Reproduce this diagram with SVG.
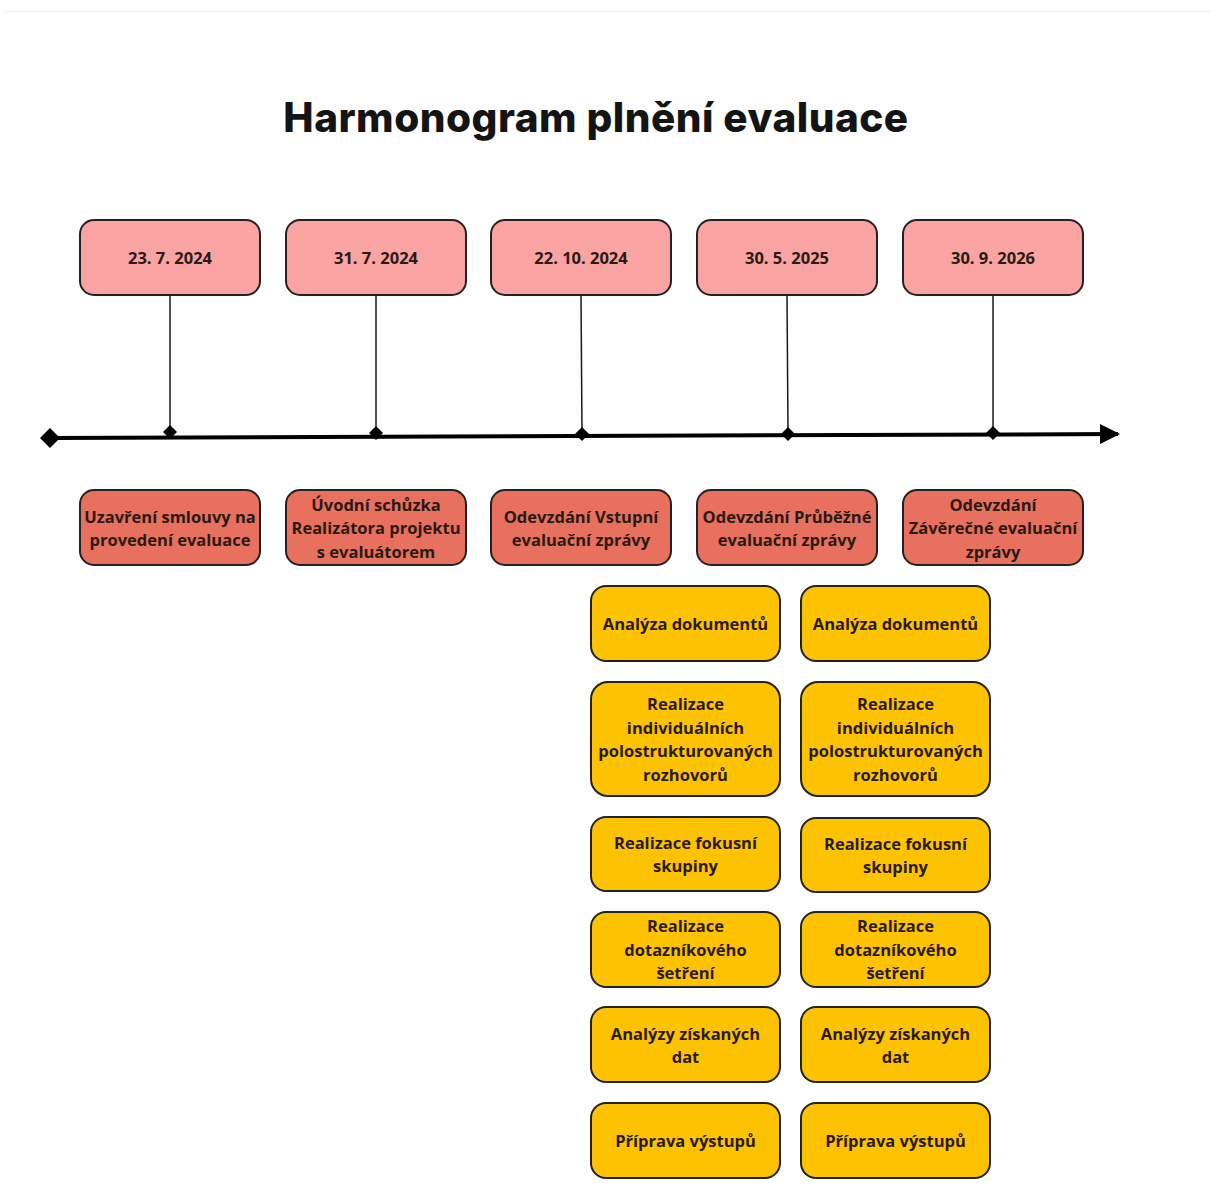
<svg xmlns="http://www.w3.org/2000/svg" width="1211" height="1202" viewBox="0 0 1211 1202">
<defs>
<style>
.bg{fill:#fefefe}
.date rect{fill:#f9a3a3;stroke:#222;stroke-width:2}
.desc rect{fill:#e8705e;stroke:#222;stroke-width:2}
.task rect{fill:#fdc300;stroke:#222;stroke-width:2}
text{font-family:"Open Sans","Noto Sans","DejaVu Sans",sans-serif;font-weight:700;font-size:16.5px;fill:#2a1a14;text-anchor:middle}
.title{font-family:Inter,"DejaVu Sans",sans-serif;font-weight:800;font-size:40.5px;letter-spacing:0.5px;fill:#141414;text-anchor:middle}
.stem{stroke:#1a1a1a;stroke-width:1.5;fill:none}
.axis{stroke:#000;stroke-width:4;fill:none}
.tick{fill:#000}
</style>
<marker id="arr" viewBox="0 0 10 10" refX="9" refY="5" markerWidth="5.5" markerHeight="5" markerUnits="strokeWidth" orient="auto">
<path d="M0,0 L10,5 L0,10 z" fill="#000"/>
</marker>
</defs>
<rect class="bg" x="0" y="0" width="1211" height="1202"/>
<line x1="5" y1="11.5" x2="1211" y2="11.5" stroke="#efefef" stroke-width="1"/>
<text class="title" x="596" y="132">Harmonogram plnění evaluace</text>

<g id="connectors">
<line class="stem" x1="170" y1="295" x2="170" y2="431"/>
<line class="stem" x1="376" y1="295" x2="376" y2="432"/>
<line class="stem" x1="581" y1="295" x2="582" y2="433"/>
<line class="stem" x1="787" y1="295" x2="788" y2="433"/>
<line class="stem" x1="993" y1="295" x2="993" y2="433"/>
<line class="axis" x1="52" y1="438" x2="1118" y2="434" marker-end="url(#arr)"/>
<path class="tick" d="M50,428 L60,438 L50,448 L40,438 z"/>
<path class="tick" d="M170,425 L177,432 L170,439 L163,432 z"/>
<path class="tick" d="M376,426 L383,433 L376,440 L369,433 z"/>
<path class="tick" d="M582,427 L589,434 L582,441 L575,434 z"/>
<path class="tick" d="M788,427 L795,434 L788,441 L781,434 z"/>
<path class="tick" d="M993,426 L1000,433 L993,440 L986,433 z"/>
</g>

<g id="date1" class="date"><rect x="80" y="220" width="180" height="75" rx="14"/><text x="170" y="264">23. 7. 2024</text></g>
<g id="date2" class="date"><rect x="286" y="220" width="180" height="75" rx="14"/><text x="376" y="264">31. 7. 2024</text></g>
<g id="date3" class="date"><rect x="491" y="220" width="180" height="75" rx="14"/><text x="581" y="264">22. 10. 2024</text></g>
<g id="date4" class="date"><rect x="697" y="220" width="180" height="75" rx="14"/><text x="787" y="264">30. 5. 2025</text></g>
<g id="date5" class="date"><rect x="903" y="220" width="180" height="75" rx="14"/><text x="993" y="264">30. 9. 2026</text></g>

<g id="desc1" class="desc"><rect x="80" y="490" width="180" height="75" rx="14"/><text x="170" y="523">Uzavření smlouvy na</text><text x="170" y="546">provedení evaluace</text></g>
<g id="desc2" class="desc"><rect x="286" y="490" width="180" height="75" rx="14"/><text x="376" y="511">Úvodní schůzka</text><text x="376" y="534">Realizátora projektu</text><text x="376" y="558">s evaluátorem</text></g>
<g id="desc3" class="desc"><rect x="491" y="490" width="180" height="75" rx="14"/><text x="581" y="523">Odevzdání Vstupní</text><text x="581" y="546">evaluační zprávy</text></g>
<g id="desc4" class="desc"><rect x="697" y="490" width="180" height="75" rx="14"/><text x="787" y="523">Odevzdání Průběžné</text><text x="787" y="546">evaluační zprávy</text></g>
<g id="desc5" class="desc"><rect x="903" y="490" width="180" height="75" rx="14"/><text x="993" y="511">Odevzdání</text><text x="993" y="534">Závěrečné evaluační</text><text x="993" y="558">zprávy</text></g>

<g id="taskL1" class="task"><rect x="591" y="586" width="189" height="75" rx="15"/><text x="685.5" y="630">Analýza dokumentů</text></g>
<g id="taskL2" class="task"><rect x="591" y="682" width="189" height="114" rx="17"/><text x="685.5" y="710">Realizace</text><text x="685.5" y="734">individuálních</text><text x="685.5" y="757">polostrukturovaných</text><text x="685.5" y="781">rozhovorů</text></g>
<g id="taskL3" class="task"><rect x="591" y="817" width="189" height="74" rx="15"/><text x="685.5" y="849">Realizace fokusní</text><text x="685.5" y="872">skupiny</text></g>
<g id="taskL4" class="task"><rect x="591" y="912" width="189" height="75" rx="15"/><text x="685.5" y="932">Realizace</text><text x="685.5" y="956">dotazníkového</text><text x="685.5" y="979">šetření</text></g>
<g id="taskL5" class="task"><rect x="591" y="1007" width="189" height="75" rx="15"/><text x="685.5" y="1040">Analýzy získaných</text><text x="685.5" y="1063">dat</text></g>
<g id="taskL6" class="task"><rect x="591" y="1103" width="189" height="75" rx="15"/><text x="685.5" y="1147">Příprava výstupů</text></g>

<g id="taskR1" class="task"><rect x="801" y="586" width="189" height="75" rx="15"/><text x="895.5" y="630">Analýza dokumentů</text></g>
<g id="taskR2" class="task"><rect x="801" y="682" width="189" height="114" rx="17"/><text x="895.5" y="710">Realizace</text><text x="895.5" y="734">individuálních</text><text x="895.5" y="757">polostrukturovaných</text><text x="895.5" y="781">rozhovorů</text></g>
<g id="taskR3" class="task"><rect x="801" y="818" width="189" height="74" rx="15"/><text x="895.5" y="850">Realizace fokusní</text><text x="895.5" y="873">skupiny</text></g>
<g id="taskR4" class="task"><rect x="801" y="912" width="189" height="75" rx="15"/><text x="895.5" y="932">Realizace</text><text x="895.5" y="956">dotazníkového</text><text x="895.5" y="979">šetření</text></g>
<g id="taskR5" class="task"><rect x="801" y="1007" width="189" height="75" rx="15"/><text x="895.5" y="1040">Analýzy získaných</text><text x="895.5" y="1063">dat</text></g>
<g id="taskR6" class="task"><rect x="801" y="1103" width="189" height="75" rx="15"/><text x="895.5" y="1147">Příprava výstupů</text></g>
</svg>
